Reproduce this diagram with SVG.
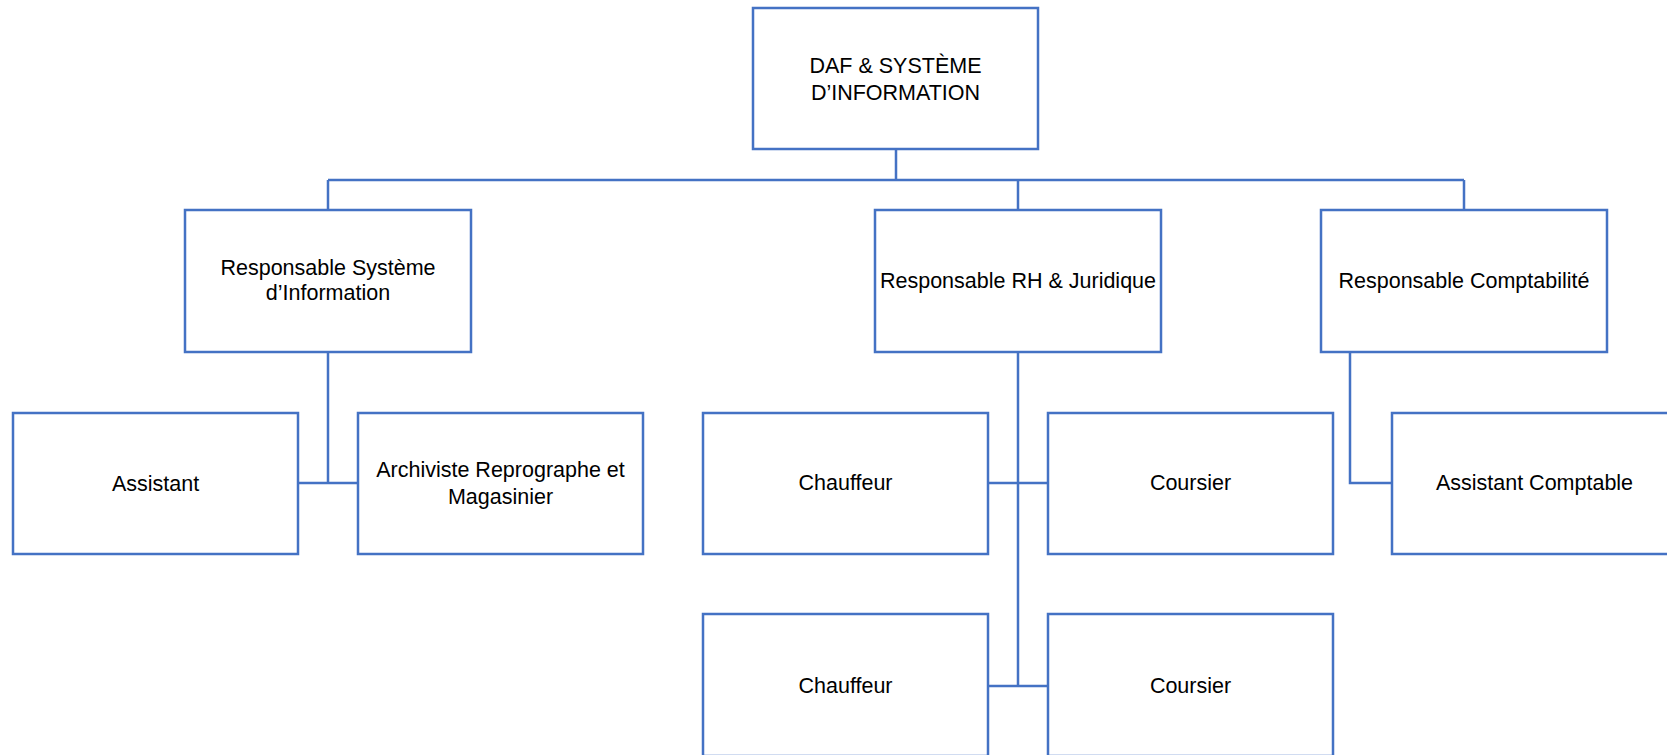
<svg xmlns="http://www.w3.org/2000/svg" width="1667" height="755" viewBox="0 0 1667 755">
<style>
.box{fill:#fff;stroke:#4472C4;stroke-width:2.5}
.ln{fill:none;stroke:#4472C4;stroke-width:2.5}
text{font-family:"Liberation Sans",Arial,sans-serif;font-size:21.5px;fill:#000;text-anchor:middle}
</style>
<rect width="1667" height="755" fill="#fff"/>
<g id="connectors">
<path class="ln" d="M896,149V180M328,180H1464M328,180V210M1018,180V210M1464,180V210"/>
<path class="ln" d="M328,352V483M298,483H358"/>
<path class="ln" d="M1018,352V686M988,483H1048M988,686H1048"/>
<path class="ln" d="M1350,352V483H1392"/>
</g>
<g id="daf"><rect class="box" x="753" y="8" width="285" height="141"/><text x="895.5" y="73">DAF &amp; SYSTÈME</text><text x="895.5" y="99.5">D’INFORMATION</text></g>
<g id="resp-si"><rect class="box" x="185" y="210" width="286" height="142"/><text x="328" y="275">Responsable Système</text><text x="328" y="300">d’Information</text></g>
<g id="resp-rh"><rect class="box" x="875" y="210" width="286" height="142"/><text x="1018" y="288">Responsable RH &amp; Juridique</text></g>
<g id="resp-compta"><rect class="box" x="1321" y="210" width="286" height="142"/><text x="1464" y="288">Responsable Comptabilité</text></g>
<g id="assistant"><rect class="box" x="13" y="413" width="285" height="141"/><text x="155.5" y="491">Assistant</text></g>
<g id="archiviste"><rect class="box" x="358" y="413" width="285" height="141"/><text x="500.5" y="477">Archiviste Reprographe et</text><text x="500.5" y="504">Magasinier</text></g>
<g id="chauffeur1"><rect class="box" x="703" y="413" width="285" height="141"/><text x="845.5" y="490">Chauffeur</text></g>
<g id="coursier1"><rect class="box" x="1048" y="413" width="285" height="141"/><text x="1190.5" y="490">Coursier</text></g>
<g id="assistant-comptable"><rect class="box" x="1392" y="413" width="285" height="141"/><text x="1534.5" y="490">Assistant Comptable</text></g>
<g id="chauffeur2"><rect class="box" x="703" y="614" width="285" height="142"/><text x="845.5" y="693">Chauffeur</text></g>
<g id="coursier2"><rect class="box" x="1048" y="614" width="285" height="142"/><text x="1190.5" y="693">Coursier</text></g>
</svg>
